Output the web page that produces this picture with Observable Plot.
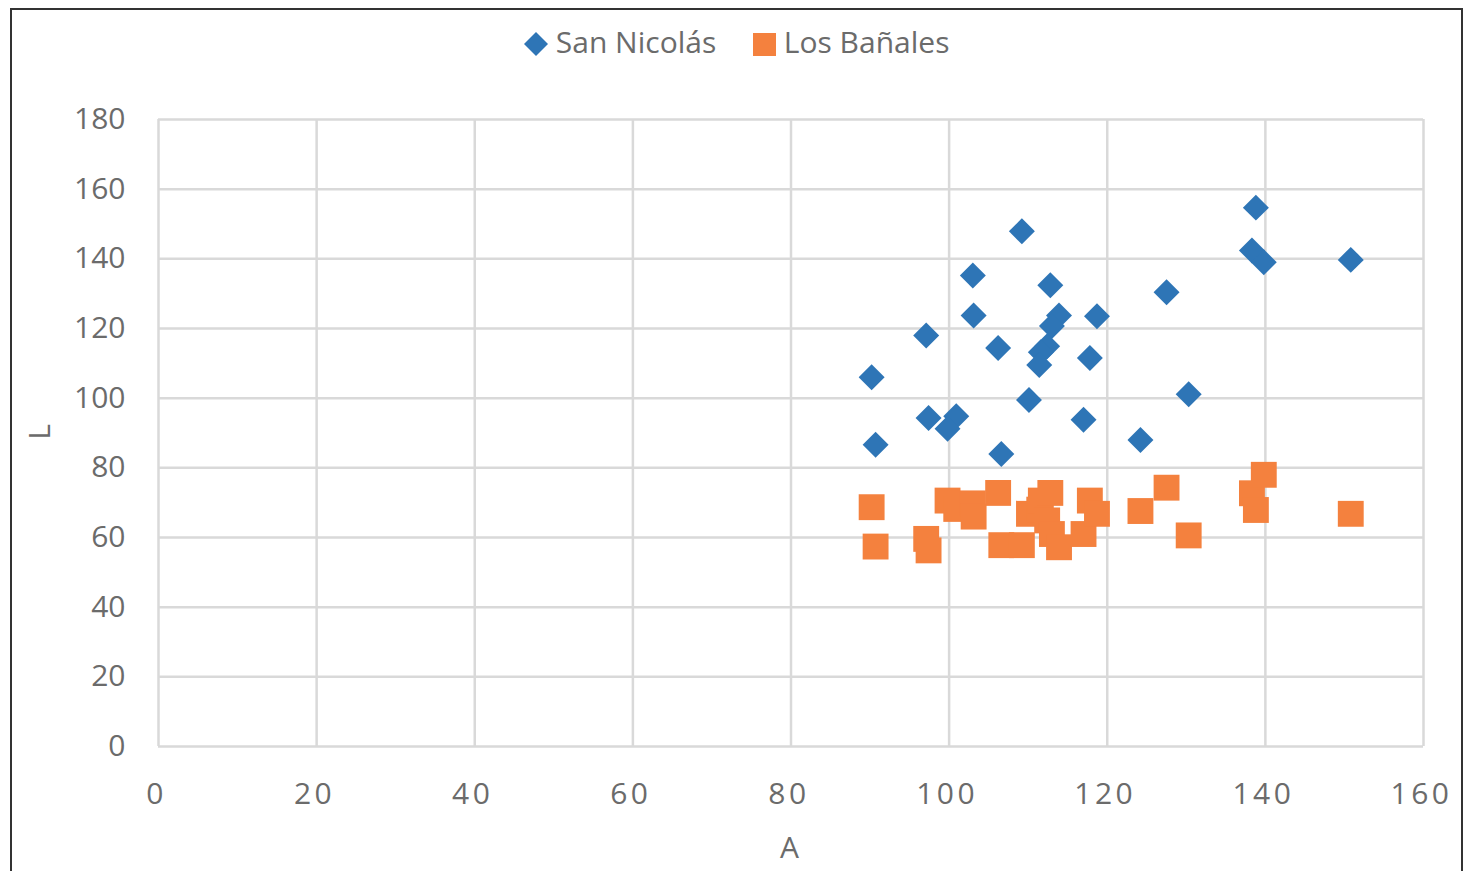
<!DOCTYPE html>
<html>
<head>
<meta charset="utf-8">
<script src="https://cdn.jsdelivr.net/npm/d3@7"></script>
<script src="https://cdn.jsdelivr.net/npm/@observablehq/plot@0.6"></script>
<style>
  html, body { margin: 0; padding: 0; background: #fff; overflow: hidden; }
  #wrap { position: relative; width: 1469px; height: 871px; font-family: "Open Sans", sans-serif; color: #6b6b6b; }
  #frame { position: absolute; left: 10px; top: 8px; width: 1453px; height: 900px; border: 2px solid #333; box-sizing: border-box; pointer-events: none; }
  #legend { position: absolute; left: 0; top: 0; width: 1469px; height: 84px; }
  .lg { position: absolute; top: 20px; font-size: 30px; line-height: 44px; color: #6b6b6b; white-space: nowrap; }
  #chart { position: absolute; left: 0; top: 84px; }
  .axtitle { position: absolute; font-size: 30px; color: #6b6b6b; line-height: 1; }
  #chart svg [aria-label="x-axis tick label"] text { letter-spacing: 3.5px; }
</style>
</head>
<body>
<div id="wrap">
  <div id="legend"></div>
  <div id="chart"></div>
  <div class="axtitle" id="ylab" style="left:31px; top:417px; transform: rotate(-90deg); transform-origin: center;">L</div>
  <div class="axtitle" id="xlab" style="left:780px; top:832px;">A</div>
  <div id="frame"></div>
</div>
<script>
// Series names
const seriesNames = ["San Nicolás", "Los Bañales"];
const seriesColors = ["#2E75B6", "#F4813E"];

// San Nicolás (A, L)
const sanNicolasA = [109.2, 103.0, 112.8, 103.1, 113.9, 118.7, 113.0, 97.1, 106.2, 112.4, 111.6, 111.4, 117.8, 90.2, 110.1, 97.4, 100.9, 99.8, 117.0, 90.7, 106.6, 124.2, 138.8, 138.3, 139.8, 150.8, 127.5, 130.3];
const sanNicolasL = [147.9, 135.2, 132.4, 123.7, 123.7, 123.5, 120.7, 118.0, 114.4, 114.9, 113.2, 109.5, 111.5, 106.0, 99.5, 94.3, 94.8, 91.2, 93.8, 86.6, 84.0, 88.0, 154.7, 142.4, 139.0, 139.7, 130.4, 101.1];

// Los Bañales (A, L)
const losBanalesA = [90.2, 90.7, 97.1, 97.4, 99.8, 100.9, 103.0, 103.1, 106.2, 106.6, 109.2, 110.1, 111.4, 111.6, 112.4, 112.8, 113.0, 113.9, 117.0, 117.8, 118.7, 124.2, 127.5, 130.3, 138.3, 138.8, 139.8, 150.8];
const losBanalesL = [68.7, 57.4, 59.6, 56.3, 70.6, 68.2, 69.8, 66.0, 72.8, 57.8, 57.8, 66.8, 68.0, 70.6, 64.9, 72.8, 61.0, 57.2, 61.0, 70.6, 66.8, 67.6, 74.3, 60.6, 72.7, 67.9, 78.0, 66.8];

// Axis ticks
const xTicks = [0, 20, 40, 60, 80, 100, 120, 140, 160];
const yTicks = [0, 20, 40, 60, 80, 100, 120, 140, 160, 180];

const sn = sanNicolasA.map((a, i) => ({A: a, L: sanNicolasL[i]}));
const lb = losBanalesA.map((a, i) => ({A: a, L: losBanalesL[i]}));

const grid = "#d9d9d9";
const chart = Plot.plot({
  width: 1469,
  height: 787,
  marginLeft: 158,
  marginRight: 46,
  marginTop: 35,
  marginBottom: 125,
  style: {fontFamily: "'Open Sans', sans-serif", fontSize: "30px", color: "#6b6b6b", background: "transparent", overflow: "visible"},
  x: {domain: [0, 160]},
  y: {domain: [0, 180]},
  marks: [
    Plot.ruleX(xTicks, {x: d => d, stroke: grid, strokeWidth: 2.5}),
    Plot.ruleY(yTicks, {y: d => d, stroke: grid, strokeWidth: 2.5}),
    Plot.axisX(xTicks, {tickSize: 0, tickPadding: 36, dx: -2, label: null}),
    Plot.axisY(yTicks, {tickSize: 0, tickPadding: 33, label: null}),
    Plot.dot(sn, {x: "A", y: "L", symbol: "diamond2", r: 11.7, fill: seriesColors[0], stroke: null}),
    Plot.dot(lb, {x: "A", y: "L", symbol: "square", r: 14.6, fill: seriesColors[1], stroke: null})
  ]
});
document.getElementById("chart").appendChild(chart);

// Legend
const legend = document.getElementById("legend");
legend.innerHTML =
  `<div class="lg" style="left:524px;"><svg width="24" height="24" style="vertical-align:-3px"><path d="M12 0 L24 12 L12 24 L0 12 Z" fill="${seriesColors[0]}"/></svg> ${seriesNames[0]}</div>` +
  `<div class="lg" style="left:753px;"><svg width="23" height="23" style="vertical-align:-3px"><rect width="23" height="23" fill="${seriesColors[1]}"/></svg> ${seriesNames[1]}</div>`;
</script>
</body>
</html>
